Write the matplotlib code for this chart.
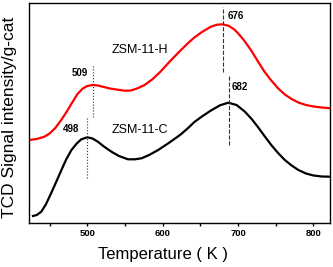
import numpy as np
import matplotlib
matplotlib.use("Agg")
import matplotlib.pyplot as plt

plt.rcParams['font.family'] = ['Liberation Sans', 'DejaVu Sans']

# TPD curves (temperature in K, signal in arbitrary units)
temp_h = [423, 433, 443, 450, 457, 465, 472, 480, 487, 494, 500, 507, 514, 522, 530, 540,
          550, 558, 566, 576, 586, 597, 610, 623, 633, 642, 652, 664, 672, 680, 688, 695,
          700, 708, 717, 726, 735, 744, 753, 762, 771, 780, 790, 800, 811, 822]
sig_h = [82.5, 83.5, 85.8, 89, 94, 102, 110, 120, 128.5, 134, 136.5, 137.5, 137, 135.5,
         134, 132.8, 131.8, 132, 134, 137.5, 143, 150.8, 161.5, 171.5, 179, 185, 190.5,
         195.8, 197.8, 198.2, 196.5, 193, 189.2, 182, 172.5, 161.5, 150.8, 142, 134.2, 128,
         123.5, 120, 117.5, 116, 115, 114.2]

temp_c = [428, 433, 439, 445, 452, 459, 466, 472, 479, 486, 492, 500, 507, 514, 522, 532,
          542, 554, 563, 572, 582, 594, 608, 623, 633, 642, 653, 664, 676, 687, 698, 709,
          718, 726, 735, 744, 753, 762, 771, 780, 790, 800, 811, 822]
sig_c = [6.5, 7.5, 10.8, 18, 29.2, 41, 53, 63, 72.5, 79, 83.2, 85.2, 84, 80.8, 76, 70.8,
         66.5, 63.2, 63.2, 64.2, 67.5, 72.5, 79.5, 87.5, 94, 100.5, 106.5, 112, 117.2,
         119.8, 117.5, 110.8, 103.5, 95.8, 86.5, 77.5, 69.5, 62.5, 57, 52.5, 49, 47, 46, 45.8]

# peak markers: (temperature, bottom, top, label, label x, label y, style, align)
peaks = [
    (507.6, 106, 159, '509', 490, 149.8, ':', 'center'),
    (680.0, 150.8, 215.8, '676', 685.7, 206.8, '--', 'left'),
    (688.6, 77.5, 147.5, '682', 691.9, 135.2, '--', 'left'),
    (499.0, 44.5, 104.5, '498', 478.8, 93.2, ':', 'center'),
]

fig = plt.figure(figsize=(3.33, 2.67), dpi=100)
ax = fig.add_axes([29/333, 1 - 222.5/267, 301/333, 219.8/267])

ax.plot(temp_h, sig_h, color='#ff0000', lw=1.6)
ax.plot(temp_c, sig_c, color='black', lw=1.6)

for t, y0, y1, lab, tx, ty, ls, ha in peaks:
    ax.plot([t, t], [y0, y1], color='#333333', lw=0.8, ls=ls)
    ax.text(tx, ty, lab, fontsize=7, fontweight='bold', ha=ha, va='center')

ax.text(569.5, 172.5, 'ZSM-11-H', fontsize=9, ha='center', va='center')
ax.text(569.5, 92.5, 'ZSM-11-C', fontsize=9, ha='center', va='center')

ax.set_xlim(422.7, 821.9)
ax.set_ylim(0, 219.8)
ax.set_xticks([450, 500, 550, 600, 650, 700, 750, 800])
ax.set_xticklabels(['', '500', '', '600', '', '700', '', '800'])
ax.tick_params(axis='x', direction='out', length=2.5, width=1, pad=2, labelsize=6.8)
for lbl in ax.get_xticklabels():
    lbl.set_fontweight('bold')
ax.set_yticks([])
for s in ax.spines.values():
    s.set_linewidth(1.0)

fig.text(163.5/333, 1 - 255/267, 'Temperature ( K )', fontsize=12, ha='center', va='center')
fig.text(10/333, 1 - 117.5/267, 'TCD Signal intensity/g-cat', fontsize=12.5,
         rotation=90, ha='center', va='center')

fig.savefig('out.png', dpi=100)
